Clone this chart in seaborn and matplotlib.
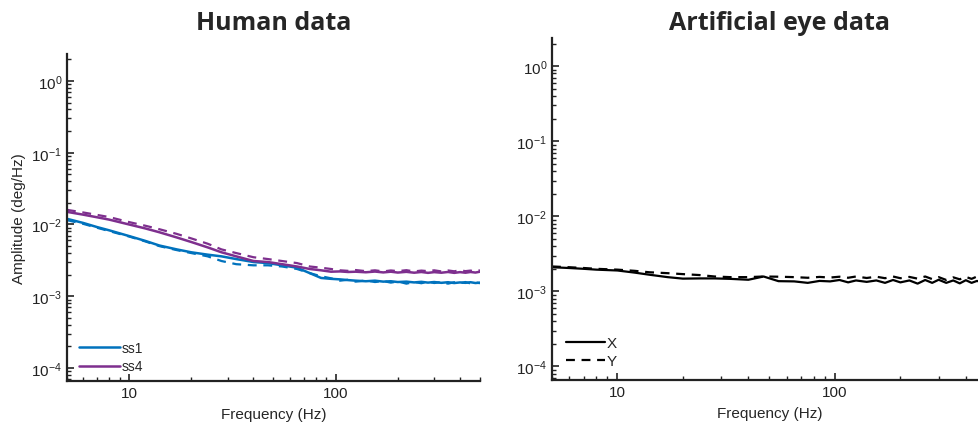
import numpy as np
import pandas as pd
import matplotlib
matplotlib.use("Agg")
import matplotlib.pyplot as plt
from matplotlib.lines import Line2D
from matplotlib.ticker import LogLocator, NullFormatter
import seaborn as sns

# Frequencies (Hz) shared by all spectra
freq = [5, 6, 7, 8, 10, 12, 14, 17, 20, 24, 28, 33, 40, 47, 55, 65, 75, 85, 95,
        105, 115, 125, 140, 155, 170, 185, 200, 220, 240, 260, 280, 300, 325,
        350, 375, 400, 425, 450, 475, 500]

# Human data: ss1 (solid = X, dashed = Y)
ss1_x = [0.0120, 0.0105, 0.0092, 0.0083, 0.0069, 0.0059, 0.0051, 0.0045, 0.0041,
         0.0038, 0.0036, 0.0033, 0.0030, 0.0029, 0.0027, 0.0025, 0.0021, 0.0018,
         0.00175, 0.00172, 0.00168, 0.00165, 0.00162, 0.00165, 0.00160, 0.00162,
         0.00158, 0.00160, 0.00156, 0.00159, 0.00155, 0.00158, 0.00154, 0.00157,
         0.00153, 0.00156, 0.00154, 0.00157, 0.00153, 0.00155]
ss1_y = [0.0115, 0.0102, 0.0090, 0.0081, 0.0068, 0.0058, 0.0050, 0.0044, 0.0040,
         0.0036, 0.0031, 0.0028, 0.0027, 0.0027, 0.0026, 0.0024, 0.0021, 0.0019,
         0.00178, 0.00165, 0.00170, 0.00160, 0.00166, 0.00158, 0.00163, 0.00155,
         0.00161, 0.00150, 0.00158, 0.00152, 0.00160, 0.00153, 0.00158, 0.00150,
         0.00157, 0.00152, 0.00158, 0.00151, 0.00156, 0.00152]

# Human data: ss4
ss4_x = [0.0150, 0.0137, 0.0126, 0.0117, 0.0100, 0.0088, 0.0078, 0.0066, 0.0057,
         0.0048, 0.0041, 0.0036, 0.0031, 0.0030, 0.0028, 0.0026, 0.0024, 0.0023,
         0.0022, 0.00222, 0.00218, 0.00220, 0.00216, 0.00221, 0.00215, 0.00220,
         0.00214, 0.00219, 0.00213, 0.00218, 0.00212, 0.00217, 0.00213, 0.00218,
         0.00212, 0.00217, 0.00213, 0.00218, 0.00214, 0.00220]
ss4_y = [0.0160, 0.0147, 0.0136, 0.0127, 0.0108, 0.0096, 0.0086, 0.0074, 0.0064,
         0.0054, 0.0045, 0.0040, 0.0035, 0.0033, 0.0031, 0.0029, 0.0026, 0.0025,
         0.0024, 0.0023, 0.00226, 0.00232, 0.00224, 0.00230, 0.00222, 0.00229,
         0.00224, 0.00231, 0.00222, 0.00228, 0.00224, 0.00230, 0.00222, 0.00229,
         0.00223, 0.00230, 0.00224, 0.00228, 0.00223, 0.00230]

# Artificial eye data
eye_x = [0.00210, 0.00205, 0.00200, 0.00195, 0.00190, 0.00178, 0.00167, 0.00155,
         0.00148, 0.00149, 0.00149, 0.00147, 0.00143, 0.00158, 0.00137, 0.00136,
         0.00130, 0.00138, 0.00136, 0.00142, 0.00132, 0.00140, 0.00134, 0.00140,
         0.00130, 0.00142, 0.00132, 0.00140, 0.00127, 0.00142, 0.00130, 0.00143,
         0.00130, 0.00140, 0.00128, 0.00141, 0.00130, 0.00138, 0.00132, 0.00136]
eye_y = [0.00215, 0.00210, 0.00205, 0.00200, 0.00195, 0.00188, 0.00180, 0.00175,
         0.00170, 0.00165, 0.00158, 0.00155, 0.00155, 0.00158, 0.00157, 0.00155,
         0.00152, 0.00156, 0.00153, 0.00157, 0.00152, 0.00158, 0.00151, 0.00157,
         0.00150, 0.00158, 0.00150, 0.00156, 0.00148, 0.00158, 0.00146, 0.00155,
         0.00142, 0.00154, 0.00145, 0.00156, 0.00147, 0.00158, 0.00148, 0.00156]

blue = "#0072BD"
purple = "#7E2F8E"

sns.set_style("ticks")
plt.rcParams["font.family"] = ["Liberation Sans", "DejaVu Sans"]
plt.rcParams["mathtext.fontset"] = "custom"
plt.rcParams["mathtext.rm"] = "Liberation Sans"
plt.rcParams["mathtext.it"] = "Liberation Sans:italic"

fig = plt.figure(figsize=(9.79, 4.27), dpi=100)
ax1 = fig.add_axes([0.0684, 0.1054, 0.4219, 0.7658])
ax2 = fig.add_axes([0.5638, 0.1077, 0.4443, 0.8009])


def style_axis(ax):
    ax.set_xscale("log")
    ax.set_yscale("log")
    ax.set_xlim(5, 500)
    ax.set_ylim(10 ** -4.18, 10 ** 0.375)
    ax.yaxis.set_major_locator(LogLocator(base=10, numticks=10))
    ax.yaxis.set_minor_locator(LogLocator(base=10, subs=np.arange(2, 10), numticks=20))
    ax.yaxis.set_minor_formatter(NullFormatter())
    ax.set_xticks([10, 100])
    ax.set_xticklabels(["10", "100"])
    ax.xaxis.set_minor_formatter(NullFormatter())
    for s in ["top", "right"]:
        ax.spines[s].set_visible(False)
    for s in ["left", "bottom"]:
        ax.spines[s].set_linewidth(1.6)
        ax.spines[s].set_color("#222222")
    ax.tick_params(which="major", direction="in", length=5, width=1.2,
                   labelsize=11, colors="#222222", labelcolor="#222222")
    ax.tick_params(which="minor", direction="in", length=3, width=1.0,
                   colors="#222222")
    ax.set_xlabel("Frequency (Hz)", fontsize=11, labelpad=5)


df = pd.DataFrame({"freq": freq, "ss1_x": ss1_x, "ss1_y": ss1_y,
                   "ss4_x": ss4_x, "ss4_y": ss4_y,
                   "eye_x": eye_x, "eye_y": eye_y})

sns.lineplot(data=df, x="freq", y="ss1_y", ax=ax1, color=blue, lw=1.6, linestyle=(0, (4, 3)))
sns.lineplot(data=df, x="freq", y="ss1_x", ax=ax1, color=blue, lw=1.8)
sns.lineplot(data=df, x="freq", y="ss4_y", ax=ax1, color=purple, lw=1.6, linestyle=(0, (4, 3)))
sns.lineplot(data=df, x="freq", y="ss4_x", ax=ax1, color=purple, lw=1.8)

sns.lineplot(data=df, x="freq", y="eye_y", ax=ax2, color="black", lw=1.6, linestyle=(0, (4, 3)))
sns.lineplot(data=df, x="freq", y="eye_x", ax=ax2, color="black", lw=1.6)

style_axis(ax1)
style_axis(ax2)
ax1.set_ylabel("Amplitude (deg/Hz)", fontsize=11)
ax2.set_ylabel("")

h1 = [Line2D([], [], color=blue, lw=1.8), Line2D([], [], color=purple, lw=1.8)]
ax1.legend(h1, ["ss1", "ss4"], loc="lower left", frameon=False, fontsize=10,
           handlelength=2.9, handletextpad=0.15, labelspacing=0.35,
           bbox_to_anchor=(0.0, -0.015))
h2 = [Line2D([], [], color="black", lw=1.6),
      Line2D([], [], color="black", lw=1.6, linestyle=(0, (4, 3)))]
ax2.legend(h2, ["X", "Y"], loc="lower left", frameon=False, fontsize=11,
           handlelength=2.6, handletextpad=0.1, labelspacing=0.25,
           bbox_to_anchor=(0.0, -0.005))

fig.text(274 / 979, 1 - 23 / 427, "Human data", ha="center", va="center",
         fontsize=18, fontweight="bold", family=["Open Sans", "DejaVu Sans"])
fig.text(780 / 979, 1 - 23 / 427, "Artificial eye data", ha="center", va="center",
         fontsize=18, fontweight="bold", family=["Open Sans", "DejaVu Sans"])

fig.savefig("out.png", dpi=100)
